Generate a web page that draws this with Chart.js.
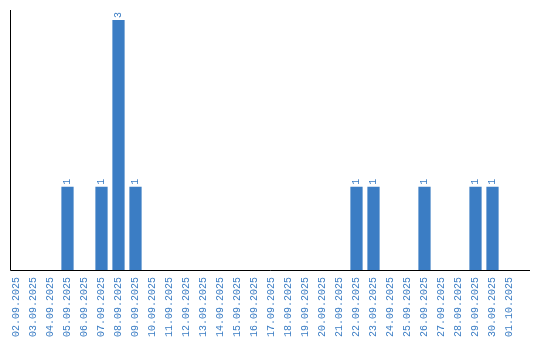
<!DOCTYPE html>
<html>
<head>
<meta charset="utf-8">
<script src="https://cdn.jsdelivr.net/npm/chart.js@4"></script>
<style>
html,body{margin:0;padding:0;background:#fff;}
#c{display:block;}
</style>
</head>
<body>
<canvas id="c" width="540" height="340"></canvas>
<script>
const categories = ["02.09.2025","03.09.2025","04.09.2025","05.09.2025","06.09.2025","07.09.2025","08.09.2025","09.09.2025","10.09.2025","11.09.2025","12.09.2025","13.09.2025","14.09.2025","15.09.2025","16.09.2025","17.09.2025","18.09.2025","19.09.2025","20.09.2025","21.09.2025","22.09.2025","23.09.2025","24.09.2025","25.09.2025","26.09.2025","27.09.2025","28.09.2025","29.09.2025","30.09.2025","01.10.2025"];
const counts = [0,0,0,1,0,1,3,1,0,0,0,0,0,0,0,0,0,0,0,0,1,1,0,0,1,0,0,1,1,0];

const BLUE = '#3b7dc4';
const FAMILY = '"Liberation Mono", "Courier New", monospace';
const FONT = '10px ' + FAMILY;

const decor = {
  id: 'decor',
  afterDatasetsDraw(chart) {
    const ctx = chart.ctx;
    const a = chart.chartArea;
    ctx.save();
    ctx.strokeStyle = '#000';
    ctx.lineWidth = 1;
    ctx.beginPath();
    ctx.moveTo(a.left + 2.5, a.top);
    ctx.lineTo(a.left + 2.5, a.bottom + 0.5);
    ctx.lineTo(a.right + 12, a.bottom + 0.5);
    ctx.stroke();
    const meta = chart.getDatasetMeta(0);
    ctx.fillStyle = BLUE;
    ctx.font = FONT;
    ctx.textAlign = 'left';
    ctx.textBaseline = 'middle';
    meta.data.forEach((bar, i) => {
      const v = counts[i];
      if (!v) return;
      ctx.save();
      ctx.translate(bar.x, bar.y - 2);
      ctx.rotate(-Math.PI / 2);
      ctx.fillText(String(v), 0, 0);
      ctx.restore();
    });
    ctx.restore();
  }
};

new Chart(document.getElementById('c'), {
  type: 'bar',
  data: {
    labels: categories,
    datasets: [{
      data: counts,
      backgroundColor: BLUE,
      borderWidth: 0
    }]
  },
  options: {
    responsive: false,
    animation: false,
    events: [],
    layout: { padding: { left: 8, right: 22, top: 10, bottom: 0 } },
    plugins: { legend: { display: false }, tooltip: { enabled: false } },
    scales: {
      x: {
        grid: { display: false, drawTicks: false },
        border: { display: false },
        ticks: {
          color: BLUE,
          font: { family: FAMILY, size: 10 },
          minRotation: 90,
          maxRotation: 90,
          autoSkip: false,
          padding: 7
        },
        afterFit(s) { s.height = 70; }
      },
      y: {
        display: false,
        min: 0,
        max: 3.12
      }
    }
  },
  plugins: [decor]
});
</script>
</body>
</html>
